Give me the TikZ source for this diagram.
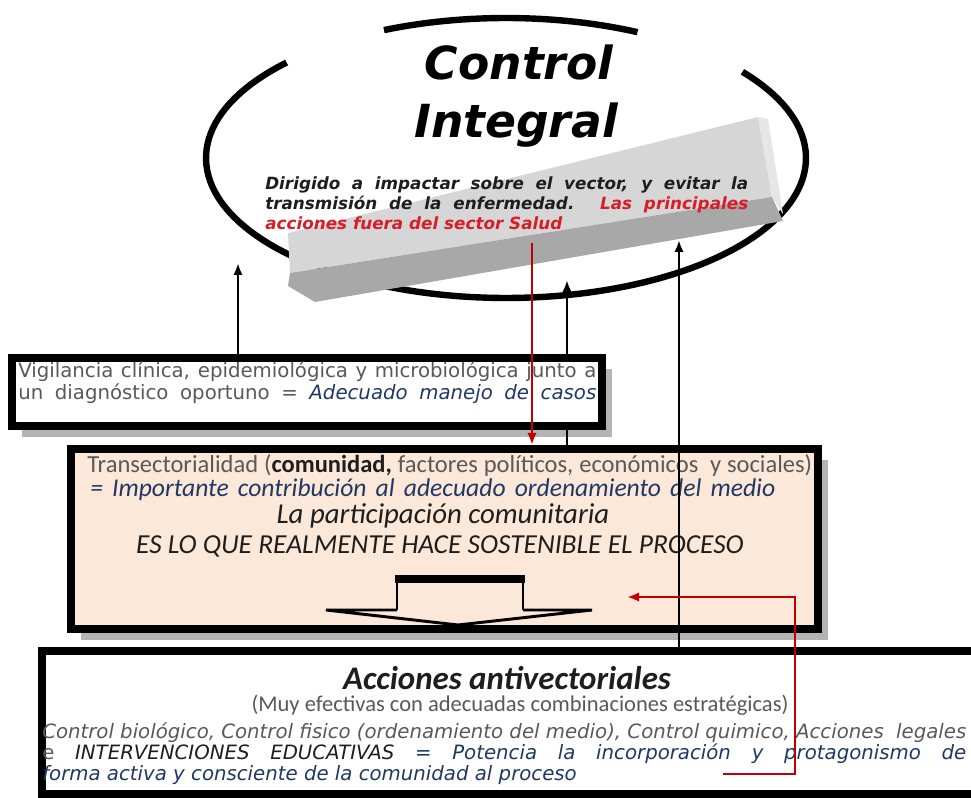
\documentclass[tikz,border=0pt]{standalone}
\usepackage{fontspec}
\setmainfont{DejaVu Sans}
\newfontfamily\calfont{Carlito}
\usetikzlibrary{arrows.meta,shadows}

\definecolor{txtgray}{RGB}{89,89,89}
\definecolor{txtblue}{RGB}{31,56,100}
\definecolor{txtdark}{RGB}{30,30,30}
\definecolor{txtred}{RGB}{215,30,40}
\definecolor{linkred}{RGB}{192,0,0}
\definecolor{peach}{RGB}{252,232,216}
\definecolor{shade}{RGB}{180,180,180}
\definecolor{bartop}{RGB}{214,214,214}
\definecolor{barfront}{RGB}{168,168,168}
\definecolor{barend}{RGB}{230,230,230}

\newcommand{\ctitle}{\fontsize{34.2}{40}\selectfont\bfseries\itshape}
\newcommand{\cpara}{\fontsize{12.6}{15}\selectfont\bfseries\itshape}
\newcommand{\vtext}{\fontsize{14.8}{18}\selectfont}
\newcommand{\ttext}{\calfont\fontsize{18.4}{22}\selectfont}

\begin{document}
\begin{tikzpicture}[x=0.75pt,y=-0.75pt,
  rim/.style={line width=4.8pt},
  box/.style={draw,line width=6pt,fill=white,inner sep=0pt,
    drop shadow={shadow xshift=7.5pt,shadow yshift=-8pt,fill=shade,opacity=1}},
  txt/.style={inner sep=0pt,anchor=base west},
  mid/.style={inner sep=0pt,anchor=base},
  up/.style={-{Latex[length=9pt,width=7pt]},line width=1.8pt},
  link/.style={-{Latex[length=9pt,width=7pt]},line width=2pt,draw=linkred}]
\useasboundingbox (0,0) rectangle (971,798);

%Ellipse round the title
\draw[rim] plot[domain=137:398,samples=120] ({506+300*cos(\x)},{158-140*sin(\x)});
\draw[rim] plot[domain=64:114,samples=30] ({506+300*cos(\x)},{158-140*sin(\x)});

%Grey bar
\fill[bartop] (288,233) -- (758,117) -- (772,197) -- (290,273) -- cycle;
\fill[barfront] (290,273) -- (772,197) -- (783,221) -- (315,302) -- (288,286) -- cycle;
\fill[barend] (758,117) -- (768,119) -- (783,214) -- (772,197) -- cycle;

%Title and text in the ellipse
\node[mid,font=\ctitle] (ctrl) at (519,80) {Control};
\node[mid,font=\ctitle] (integ) at (516,138) {Integral};

\node[txt,font=\cpara,text=txtdark] (dir1) at (265,190) {\makebox[362.25pt][s]{Dirigido a impactar sobre el vector, y evitar la}};
\node[txt,font=\cpara,text=txtdark] (dir2) at (265,210) {\makebox[362.25pt][s]{transmisión de la enfermedad. \textcolor{txtred}{Las principales}}};
\node[txt,font=\cpara,text=txtred] (dir3) at (265,230) {acciones fuera del sector Salud};

%Boxes
\node[box,fill=peach,minimum width=560.25pt,minimum height=135pt] (trans) at (444.5,539) {};
\node[box,minimum width=704.25pt,minimum height=107.25pt] (acc) at (511.5,722.5) {};
\node[box,minimum width=442.5pt,minimum height=51pt] (vig) at (307,392) {};

%Box texts
\node[txt,font=\vtext,text=txtgray] (vig1) at (18,378) {\makebox[433.5pt][s]{Vigilancia clínica, epidemiológica y microbiológica junto a}};
\node[txt,font=\vtext,text=txtgray] (vig2) at (18,400) {\makebox[433.5pt][s]{un diagnóstico oportuno = \textcolor{txtblue}{\itshape Adecuado manejo de casos}}};

\node[txt,font=\ttext,text=txtgray] (tr1) at (87,472) {\makebox[543.75pt][s]{Transectorialidad (\textcolor{txtdark}{\bfseries comunidad,} factores políticos, económicos\ \ y sociales)}};
\node[txt,font=\calfont\fontsize{19.2}{22}\selectfont\itshape,text=txtblue] (tr2) at (90,496) {\makebox[513.75pt][s]{= Importante contribución al adecuado ordenamiento del medio}};
\node[mid,font=\calfont\fontsize{21.6}{26}\selectfont\itshape,text=txtdark] (tr3) at (443,523) {La participación comunitaria};
\node[mid,font=\calfont\fontsize{20.6}{24}\selectfont\itshape,text=txtdark] (tr4) at (440,553) {ES LO QUE REALMENTE HACE SOSTENIBLE EL PROCESO};

\node[mid,font=\calfont\fontsize{24.7}{28}\selectfont\bfseries\itshape,text=txtdark] (ac1) at (507,689) {Acciones antivectoriales};
\node[mid,font=\calfont\fontsize{16.9}{20}\selectfont,text=txtgray] (ac2) at (520,711) {(Muy efectivas con adecuadas combinaciones estratégicas)};
\node[txt,font=\vtext\itshape,text=txtgray] (ac3) at (42,738) {\makebox[693pt][s]{Control biológico, Control fisico (ordenamiento del medio), Control quimico, Acciones\ \ legales}};
\node[txt,font=\vtext,text=txtgray] (ac4) at (42,759) {\makebox[693pt][s]{e \textcolor{txtdark}{\itshape INTERVENCIONES EDUCATIVAS} \textcolor{txtblue}{\itshape = Potencia la incorporación y protagonismo de}}};
\node[txt,font=\vtext\itshape,text=txtblue] (ac5) at (42,780) {forma activa y consciente de la comunidad al proceso};

%Block arrow
\fill (395,575) rectangle (525,583);
\draw[line width=1.5pt] (397,583) -- (397,610) (523,583) -- (523,610);
\draw[line width=2.2pt] (397,610) -- (326,610) -- (458,625) -- (592,610) -- (523,610);

%Arrows up to the ellipse
\coordinate (tipL) at (238,263);
\coordinate (tipM) at (567,280);
\coordinate (tipR) at (679,240);
\draw[up] (vig.north -| tipL) -- (tipL);
\draw[line width=1.8pt] (trans.north -| tipM) -- (vig.south -| tipM);
\draw[up] (vig.north -| tipM) -- (tipM);
\draw[up] (acc.north -| tipR) -- (tipR);

%Red links
\coordinate (salud) at (532,243);
\coordinate (proc) at (723,774);
\coordinate (medio) at (627,597);
\draw[link] (salud) -- (salud |- trans.north);
\draw[link] (proc) -- ++(72,0) |- (medio);

\end{tikzpicture}
\end{document}
